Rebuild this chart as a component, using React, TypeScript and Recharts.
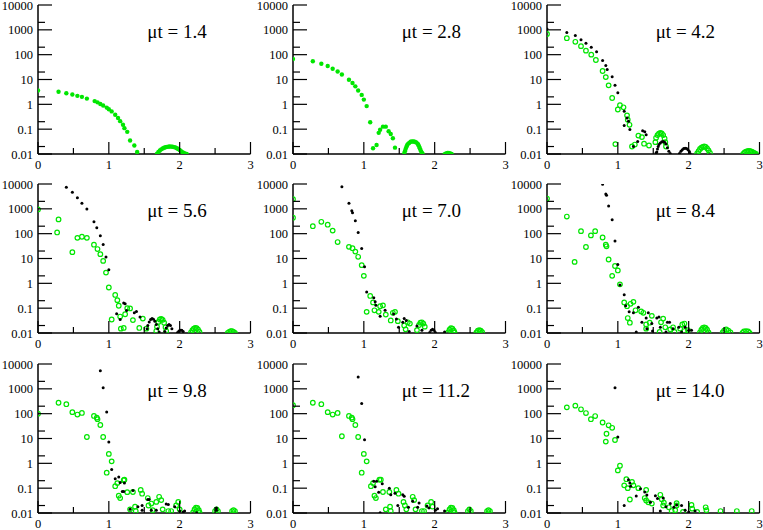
import { ScatterChart, Scatter, XAxis, YAxis } from 'recharts';

type Pt = [number, number];

const xTicks = [0, 0.5, 1, 1.5, 2, 2.5, 3];
const yTicks = [0.01, 0.02, 0.1, 0.2, 1, 2, 10, 20, 100, 200, 1000, 2000, 10000];
const yMajor = [0.01, 0.1, 1, 10, 100, 1000, 10000];
const titles = ['μt = 1.4', 'μt = 2.8', 'μt = 4.2', 'μt = 5.6', 'μt = 7.0', 'μt = 8.4', 'μt = 9.8', 'μt = 11.2', 'μt = 14.0'];

// mu t = 1.4 (green only)
const g1: Pt[] = [
  [0, 3.6], [0.29, 3.2], [0.4, 2.8], [0.485, 2.5], [0.556, 2.2], [0.62, 2.0], [0.69, 1.7], [0.8, 1.35], [0.84, 1.2],
  [0.88, 1.03], [0.92, 0.9], [0.97, 0.74], [1.0, 0.63], [1.04, 0.52], [1.09, 0.38], [1.13, 0.28], [1.16, 0.21],
  [1.2, 0.15], [1.22, 0.11], [1.26, 0.078], [1.3, 0.035], [1.36, 0.022], [1.4, 0.012],
  [1.68, 0.0102], [1.7, 0.012], [1.72, 0.0138], [1.74, 0.0154], [1.76, 0.0167], [1.78, 0.0178], [1.8, 0.0187],
  [1.82, 0.0193], [1.84, 0.0198], [1.86, 0.02], [1.88, 0.0199], [1.9, 0.0196], [1.92, 0.019], [1.94, 0.0182],
  [1.96, 0.0171], [1.98, 0.0158], [2.0, 0.0144], [2.02, 0.013], [2.04, 0.0118], [2.06, 0.0109], [2.08, 0.0104], [2.1, 0.0101],
];

// mu t = 2.8 (green only)
const g2: Pt[] = [
  [0, 67], [0.28, 54], [0.4, 43], [0.49, 35], [0.56, 27], [0.63, 21], [0.69, 16], [0.79, 9.8], [0.84, 7.2], [0.88, 5.3],
  [0.92, 3.6], [0.97, 2.4], [1.0, 1.55], [1.04, 0.85], [1.09, 0.19], [1.13, 0.017], [1.18, 0.023], [1.21, 0.071],
  [1.23, 0.095], [1.27, 0.126], [1.31, 0.126], [1.35, 0.082], [1.38, 0.064], [1.41, 0.043], [1.44, 0.018],
  [1.57, 0.0105], [1.58, 0.013], [1.59, 0.016], [1.6, 0.019], [1.61, 0.022], [1.62, 0.025], [1.64, 0.028], [1.66, 0.031],
  [1.68, 0.032], [1.7, 0.032], [1.72, 0.031], [1.74, 0.029], [1.76, 0.026], [1.77, 0.023], [1.78, 0.02], [1.79, 0.017],
  [1.8, 0.0145], [1.81, 0.0125], [1.82, 0.011], [1.83, 0.0102],
  [2.14, 0.0099], [2.16, 0.0105], [2.18, 0.011], [2.2, 0.011], [2.22, 0.0106], [2.24, 0.0101],
];

// mu t = 4.2
const b3: Pt[] = [
  [0, 1080], [0.28, 790], [0.4, 590], [0.48, 400], [0.55, 290], [0.625, 200], [0.7, 130], [0.785, 58], [0.83, 37],
  [0.85, 25], [0.92, 13], [0.96, 5.8], [1.0, 2.9], [1.09, 0.53], [1.13, 0.28], [1.15, 0.21], [1.09, 0.14], [1.17, 0.096],
  [1.22, 0.02], [1.28, 0.032], [1.35, 0.087], [1.38, 0.078], [1.4, 0.06], [1.54, 0.011],
  [1.55, 0.012], [1.56, 0.016], [1.57, 0.02], [1.58, 0.024], [1.6, 0.028], [1.62, 0.031], [1.64, 0.032], [1.66, 0.03],
  [1.68, 0.025], [1.7, 0.018], [1.72, 0.013], [1.74, 0.0105],
  [1.87, 0.0105], [1.89, 0.013], [1.91, 0.015], [1.93, 0.0165], [1.95, 0.017], [1.97, 0.0165], [1.99, 0.015], [2.01, 0.0125], [2.02, 0.0105],
];
const g3: Pt[] = [
  [0, 680], [0.28, 460], [0.4, 330], [0.48, 220], [0.55, 145], [0.625, 100], [0.69, 61], [0.785, 22], [0.83, 12.5],
  [0.87, 5.8], [0.92, 1.8], [0.965, 0.025], [1.0, 0.62], [1.03, 0.92], [1.08, 0.76], [1.13, 0.36], [1.14, 0.24],
  [1.165, 0.15], [1.2, 0.02], [1.24, 0.024], [1.29, 0.055], [1.34, 0.048], [1.37, 0.026], [1.44, 0.022],
  [1.53, 0.03], [1.54, 0.045], [1.56, 0.058], [1.58, 0.066], [1.6, 0.07], [1.62, 0.067], [1.64, 0.058], [1.66, 0.042], [1.67, 0.03], [1.68, 0.02],
  [2.12, 0.0105], [2.14, 0.013], [2.16, 0.016], [2.18, 0.018], [2.2, 0.0195], [2.22, 0.02], [2.24, 0.0195], [2.26, 0.017], [2.28, 0.014], [2.3, 0.011],
  [2.77, 0.0102], [2.79, 0.0115], [2.81, 0.0125], [2.83, 0.013], [2.85, 0.0132], [2.87, 0.013], [2.89, 0.0125], [2.91, 0.0117], [2.93, 0.0108], [2.95, 0.0101],
];

// mu t = 5.6
const b4: Pt[] = [
  [0.4, 7400], [0.485, 4600], [0.556, 2800], [0.62, 1660], [0.69, 980], [0.79, 300], [0.83, 175], [0.88, 82], [0.92, 37],
  [0.96, 11.6], [1.0, 3.5], [1.11, 0.06], [1.16, 0.035], [1.21, 0.16], [1.23, 0.15], [1.25, 0.081], [1.36, 0.066],
  [1.39, 0.074], [1.44, 0.044], [1.54, 0.015],
  [1.55, 0.02], [1.57, 0.028], [1.59, 0.035], [1.61, 0.038], [1.63, 0.036], [1.65, 0.03], [1.67, 0.022], [1.69, 0.015], [1.71, 0.011],
  [1.79, 0.0115], [1.81, 0.016], [1.83, 0.02], [1.85, 0.022], [1.87, 0.02], [1.89, 0.015],
  [1.97, 0.0105], [1.99, 0.012], [2.01, 0.013], [2.03, 0.013], [2.05, 0.0115],
];
const g4: Pt[] = [
  [0, 950], [0.29, 375], [0.27, 112], [0.485, 18], [0.556, 68], [0.62, 75], [0.69, 68], [0.79, 36], [0.84, 24], [0.88, 15],
  [0.92, 8], [0.96, 2.7], [1.0, 0.68], [1.04, 0.035], [1.09, 0.34], [1.12, 0.21], [1.14, 0.125], [1.16, 0.046],
  [1.17, 0.015], [1.21, 0.016], [1.23, 0.057], [1.26, 0.1], [1.3, 0.098], [1.34, 0.033], [1.43, 0.016], [1.48, 0.038], [1.53, 0.015],
  [1.67, 0.012], [1.68, 0.018], [1.7, 0.028], [1.72, 0.035], [1.74, 0.037], [1.76, 0.034], [1.78, 0.026], [1.8, 0.017], [1.81, 0.012],
  [2.16, 0.0105], [2.18, 0.013], [2.2, 0.015], [2.22, 0.016], [2.24, 0.0155], [2.26, 0.0135], [2.28, 0.011],
  [2.68, 0.0102], [2.7, 0.0112], [2.72, 0.012], [2.74, 0.012], [2.76, 0.0112], [2.78, 0.0102],
];

// mu t = 7.0
const b5: Pt[] = [
  [0.69, 7800], [0.79, 1660], [0.83, 830], [0.84, 700], [0.88, 330], [0.92, 112], [0.97, 25], [1.01, 4.6], [1.04, 0.45],
  [1.14, 0.26], [1.16, 0.18], [1.17, 0.13], [1.23, 0.047], [1.3, 0.082], [1.42, 0.058], [1.46, 0.037], [1.49, 0.017],
  [1.55, 0.027], [1.57, 0.038], [1.6, 0.032], [1.64, 0.0115], [1.75, 0.019], [1.82, 0.013],
  [1.93, 0.0105], [1.95, 0.013], [1.97, 0.014], [1.99, 0.013], [2.01, 0.0105], [2.14, 0.011],
];
const g5: Pt[] = [
  [0, 2450], [0, 440], [0.28, 200], [0.4, 300], [0.49, 230], [0.56, 133], [0.63, 46], [0.79, 29.5], [0.84, 26], [0.88, 19],
  [0.92, 11.7], [0.97, 5.4], [1.0, 2.0], [1.04, 0.071], [1.09, 0.31], [1.13, 0.17], [1.15, 0.082], [1.21, 0.071],
  [1.23, 0.12], [1.27, 0.13], [1.31, 0.055], [1.38, 0.032], [1.41, 0.065], [1.44, 0.071], [1.48, 0.03], [1.57, 0.02],
  [1.59, 0.014], [1.62, 0.027], [1.65, 0.024], [1.75, 0.013], [1.78, 0.021], [1.8, 0.026], [1.82, 0.027], [1.84, 0.024], [1.86, 0.018],
  [2.19, 0.0105], [2.21, 0.0135], [2.23, 0.0155], [2.25, 0.015], [2.27, 0.0125], [2.28, 0.0105],
  [2.59, 0.0105], [2.61, 0.0123], [2.63, 0.013], [2.65, 0.0125], [2.67, 0.0108],
];

// mu t = 8.4
const b6: Pt[] = [
  [0.785, 9700], [0.83, 4000], [0.84, 3500], [0.87, 1300], [0.92, 360], [0.96, 51], [1.0, 5.7], [1.03, 0.85], [1.09, 0.35],
  [1.11, 0.125], [1.16, 0.071], [1.22, 0.065], [1.29, 0.11], [1.34, 0.027], [1.26, 0.011], [1.4, 0.04], [1.43, 0.065],
  [1.41, 0.015], [1.48, 0.024], [1.49, 0.012], [1.55, 0.04], [1.58, 0.044], [1.6, 0.017], [1.68, 0.011], [1.7, 0.027],
  [1.73, 0.027], [1.78, 0.015], [1.86, 0.017], [1.9, 0.011], [1.95, 0.017], [2.0, 0.013], [2.04, 0.013],
];
const g6: Pt[] = [
  [0, 2600], [0.28, 490], [0.39, 7.3], [0.48, 126], [0.55, 29], [0.62, 85], [0.68, 126], [0.785, 70], [0.83, 36], [0.84, 31],
  [0.87, 9.1], [0.92, 2.0], [0.96, 5.0], [1.0, 3.3], [1.03, 0.91], [1.09, 0.17], [1.13, 0.12], [1.14, 0.04], [1.17, 0.026],
  [1.18, 0.15], [1.22, 0.18], [1.25, 0.082], [1.33, 0.074], [1.36, 0.065], [1.4, 0.022], [1.4, 0.015], [1.45, 0.026],
  [1.48, 0.049], [1.59, 0.011], [1.61, 0.027], [1.64, 0.038], [1.67, 0.017], [1.74, 0.014], [1.78, 0.017], [1.8, 0.011],
  [1.88, 0.015], [1.91, 0.022], [1.94, 0.024], [1.94, 0.012], [1.99, 0.013],
  [2.16, 0.0105], [2.18, 0.0135], [2.2, 0.016], [2.22, 0.017], [2.24, 0.016], [2.26, 0.0135], [2.28, 0.0105],
  [2.48, 0.0105], [2.5, 0.0125], [2.53, 0.014], [2.56, 0.0125], [2.59, 0.0105],
  [2.76, 0.0102], [2.78, 0.0115], [2.81, 0.012], [2.84, 0.0115], [2.86, 0.0102],
];

// mu t = 9.8
const b7: Pt[] = [
  [0.88, 5400], [0.92, 1100], [0.97, 117], [1.0, 7.2], [1.04, 0.56], [1.09, 0.24], [1.14, 0.28], [1.16, 0.17], [1.19, 0.074],
  [1.22, 0.16], [1.21, 0.074], [1.3, 0.014], [1.34, 0.08], [1.41, 0.018], [1.47, 0.013], [1.47, 0.02], [1.55, 0.035],
  [1.57, 0.035], [1.6, 0.013], [1.67, 0.013], [1.81, 0.023], [1.84, 0.022], [1.93, 0.018], [2.0, 0.012], [2.05, 0.011],
  [2.07, 0.012], [2.24, 0.0102], [2.52, 0.013], [2.52, 0.016],
];
const g7: Pt[] = [
  [0, 100], [0.29, 275], [0.4, 240], [0.485, 115], [0.556, 92], [0.62, 107], [0.69, 11.5], [0.79, 81], [0.83, 69], [0.84, 60],
  [0.88, 35], [0.92, 11.5], [0.97, 0.42], [1.0, 2.4], [1.04, 1.2], [1.09, 0.12], [1.12, 0.16], [1.14, 0.05], [1.16, 0.04],
  [1.22, 0.22], [1.21, 0.21], [1.26, 0.069], [1.3, 0.014], [1.34, 0.07], [1.37, 0.018], [1.38, 0.012], [1.45, 0.085],
  [1.47, 0.06], [1.55, 0.04], [1.56, 0.02], [1.6, 0.024], [1.62, 0.013], [1.67, 0.028], [1.71, 0.045], [1.74, 0.033],
  [1.76, 0.014], [1.84, 0.012], [1.88, 0.012], [1.95, 0.02], [1.98, 0.028], [2.0, 0.014],
  [2.19, 0.0105], [2.21, 0.014], [2.23, 0.0165], [2.25, 0.016], [2.27, 0.013], [2.28, 0.0105],
  [2.5, 0.012], [2.52, 0.014], [2.54, 0.012], [2.74, 0.012], [2.76, 0.013], [2.78, 0.012],
];

// mu t = 11.2
const b8: Pt[] = [
  [0.92, 3000], [0.97, 255], [1.01, 9], [1.14, 0.19], [1.16, 0.115], [1.18, 0.19], [1.21, 0.069], [1.26, 0.15], [1.36, 0.1],
  [1.38, 0.054], [1.44, 0.062], [1.48, 0.02], [1.55, 0.054], [1.57, 0.047], [1.63, 0.017], [1.69, 0.03], [1.76, 0.017],
  [1.78, 0.025], [1.89, 0.019], [1.92, 0.016], [2.01, 0.013], [2.04, 0.015], [2.14, 0.012], [1.23, 0.0102],
];
const g8: Pt[] = [
  [0, 220], [0.28, 275], [0.4, 240], [0.49, 115], [0.56, 92], [0.63, 107], [0.69, 12.3], [0.79, 81], [0.83, 69], [0.84, 60],
  [0.88, 35], [0.92, 11.5], [0.97, 0.42], [1.0, 2.4], [1.04, 1.2], [1.1, 0.12], [1.13, 0.16], [1.15, 0.05], [1.17, 0.04],
  [1.22, 0.22], [1.24, 0.22], [1.27, 0.07], [1.31, 0.014], [1.36, 0.07], [1.37, 0.018], [1.38, 0.012], [1.46, 0.085],
  [1.49, 0.06], [1.56, 0.028], [1.58, 0.02], [1.6, 0.014], [1.69, 0.045], [1.71, 0.033], [1.73, 0.014], [1.82, 0.012],
  [1.85, 0.012], [1.9, 0.02], [1.95, 0.028], [1.97, 0.018],
  [2.19, 0.0105], [2.21, 0.014], [2.23, 0.0165], [2.25, 0.016], [2.27, 0.013], [2.28, 0.0105],
  [2.47, 0.012], [2.49, 0.014], [2.51, 0.012], [2.74, 0.012], [2.76, 0.013], [2.78, 0.012],
];

// mu t = 14.0
const b9: Pt[] = [
  [0.96, 1100], [1.0, 11.5], [1.09, 0.02], [1.15, 0.22], [1.17, 0.16], [1.18, 0.12], [1.26, 0.048], [1.32, 0.095],
  [1.38, 0.07], [1.41, 0.053], [1.46, 0.027], [1.53, 0.05], [1.56, 0.038], [1.6, 0.012], [1.64, 0.04], [1.68, 0.018],
  [1.74, 0.024], [1.79, 0.017], [1.83, 0.021], [1.9, 0.02], [1.95, 0.013], [2.0, 0.011], [2.09, 0.012],
];
const g9: Pt[] = [
  [0.28, 180], [0.4, 210], [0.48, 150], [0.55, 106], [0.62, 60], [0.68, 80], [0.785, 44], [0.83, 7.5], [0.84, 15.5],
  [0.87, 34], [0.92, 27], [0.96, 8.7], [1.0, 0.52], [1.03, 0.8], [1.09, 0.13], [1.12, 0.23], [1.14, 0.1], [1.17, 0.035],
  [1.2, 0.18], [1.22, 0.13], [1.29, 0.1], [1.38, 0.04], [1.4, 0.085], [1.4, 0.032], [1.43, 0.027], [1.48, 0.024],
  [1.6, 0.054], [1.62, 0.036], [1.64, 0.02], [1.65, 0.026], [1.72, 0.017], [1.76, 0.012], [1.81, 0.013], [1.83, 0.02],
  [1.83, 0.025], [1.92, 0.011], [2.04, 0.021], [2.05, 0.015], [2.12, 0.011], [2.24, 0.017], [2.25, 0.013], [2.45, 0.012],
  [2.68, 0.012], [2.89, 0.012],
];

const blacks: Pt[][] = [[], [], b3, b4, b5, b6, b7, b8, b9];
const greens: Pt[][] = [g1, g2, g3, g4, g5, g6, g7, g8, g9];

const GREEN = '#00e600';
const FONT = "'Liberation Serif', Tinos, 'Times New Roman', 'DejaVu Serif', serif";
const colLeft = [38.3, 292.7, 546.7];
const rowTop = [5.3, 184, 364];
const PW = 212.5;
const PH = 149;

const toObj = (a: Pt[]) => a.map(([x, y]) => ({ x, y }));
const isMajorY = (v: number) => yMajor.includes(v);
const labelStyle = { fontFamily: FONT, fontSize: 12.5 };

const BottomTick = (p: any) => {
  const major = Number.isInteger(p.payload.value);
  return (
    <g>
      <line x1={p.x} y1={p.y} x2={p.x} y2={p.y - (major ? 12 : 6)} stroke="#000" strokeWidth={1.2} />
      {major && (
        <text x={p.x} y={p.y + 14.5} textAnchor="middle" style={labelStyle} fill="#000">
          {p.payload.value}
        </text>
      )}
    </g>
  );
};
const TopTick = (p: any) => {
  const major = Number.isInteger(p.payload.value);
  return <line x1={p.x} y1={p.y} x2={p.x} y2={p.y + (major ? 12 : 6)} stroke="#000" strokeWidth={1.2} />;
};
const LeftTick = (p: any) => {
  const major = isMajorY(p.payload.value);
  return (
    <g>
      <line x1={p.x} y1={p.y} x2={p.x + (major ? 14 : 7)} y2={p.y} stroke="#000" strokeWidth={1.2} />
      {major && (
        <text x={p.x - 5} y={p.y + 4.5} textAnchor="end" style={labelStyle} fill="#000">
          {String(p.payload.value)}
        </text>
      )}
    </g>
  );
};
const RightTick = (p: any) => {
  const major = isMajorY(p.payload.value);
  return <line x1={p.x} y1={p.y} x2={p.x - (major ? 14 : 7)} y2={p.y} stroke="#000" strokeWidth={1.2} />;
};

const blackDot = (p: any) => <circle cx={p.cx} cy={p.cy} r={1.5} fill="#000" />;
const greenFilled = (p: any) => <circle cx={p.cx} cy={p.cy} r={2.2} fill={GREEN} />;
const greenOpen = (p: any) => <circle cx={p.cx} cy={p.cy} r={2.3} fill="none" stroke={GREEN} strokeWidth={1.2} />;

function Panel({ i }: { i: number }) {
  const left = colLeft[i % 3] - 38;
  const top = rowTop[Math.floor(i / 3)] - 5;
  const axisLine = { stroke: '#000', strokeWidth: 1.5 };
  return (
    <div style={{ position: 'absolute', left, top }}>
      <ScatterChart width={38 + PW + 5} height={5 + PH + 22} margin={{ top: 5, right: 5, bottom: 0, left: 0 }}>
        <XAxis
          xAxisId="b" dataKey="x" type="number" domain={[0, 3]} ticks={xTicks} interval={0}
          allowDataOverflow height={22} axisLine={axisLine} tickLine={false} tickSize={0} tickMargin={0} tick={BottomTick}
        />
        <XAxis
          xAxisId="t" orientation="top" type="number" domain={[0, 3]} ticks={xTicks} interval={0}
          allowDataOverflow height={0} axisLine={axisLine} tickLine={false} tickSize={0} tickMargin={0} tick={TopTick}
        />
        <YAxis
          yAxisId="l" dataKey="y" type="number" scale="log" domain={[0.01, 10000]} ticks={yTicks} interval={0}
          allowDataOverflow width={38} axisLine={axisLine} tickLine={false} tickSize={0} tickMargin={0} tick={LeftTick}
        />
        <YAxis
          yAxisId="r" orientation="right" type="number" scale="log" domain={[0.01, 10000]} ticks={yTicks} interval={0}
          allowDataOverflow width={0} axisLine={axisLine} tickLine={false} tickSize={0} tickMargin={0} tick={RightTick}
        />
        <Scatter
          xAxisId="b" yAxisId="l" data={toObj(greens[i])} isAnimationActive={false}
          shape={i < 2 ? greenFilled : greenOpen}
        />
        <Scatter xAxisId="b" yAxisId="l" data={toObj(blacks[i])} isAnimationActive={false} shape={blackDot} />
      </ScatterChart>
    </div>
  );
}

export default function App() {
  return (
    <div style={{ position: 'absolute', left: 0, top: 0, width: 763, height: 530, overflow: 'hidden', background: '#fff' }}>
      {titles.map((_, i) => (
        <Panel key={i} i={i} />
      ))}
      <svg width={763} height={530} style={{ position: 'absolute', left: 0, top: 0, pointerEvents: 'none' }}>
        {titles.map((t, i) => (
          <text
            key={t}
            x={colLeft[i % 3] + 109}
            y={rowTop[Math.floor(i / 3)] + 33}
            style={{ fontFamily: FONT, fontSize: 19 }}
            fill="#000"
          >
            {t}
          </text>
        ))}
      </svg>
    </div>
  );
}
